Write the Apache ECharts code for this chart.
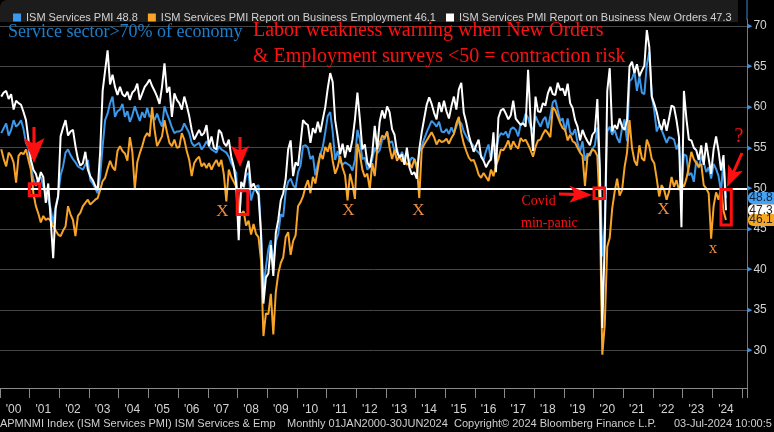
<!DOCTYPE html>
<html>
<head>
<meta charset="utf-8">
<script src="https://cdn.jsdelivr.net/npm/echarts@6.0.0/dist/echarts.min.js"></script>
<style>html,body{margin:0;padding:0;background:#000;}#c{width:774px;height:432px;}</style>
</head>
<body>
<div id="c"></div>
<script>
// ---- data (monthly, Jan 2000 - Jun 2024) ----
const servicesPMI = [
  56.8, 57.4, 58.0, 56.5, 57.2, 58.4, 57.6, 57.9, 58.4, 57.3, 55.6, 55.0,
  52.7, 51.1, 50.3, 51.2, 51.4, 50.2, 49.4, 48.6, 47.5, 45.6, 47.8, 49.1,
  51.6, 52.7, 54.4, 54.8, 54.1, 53.6, 53.2, 52.7, 52.5, 52.3, 52.9, 53.5,
  51.0, 50.6, 50.0, 49.4, 51.5, 55.2, 58.4, 59.2, 60.5, 61.3, 58.8, 59.5,
  59.7, 60.4, 58.8, 59.5, 58.2, 59.0, 60.1, 59.2, 58.3, 59.4, 58.7, 59.9,
  58.8, 59.0, 58.4, 59.2, 58.3, 57.6, 60.1, 59.2, 58.4, 57.5, 56.8, 57.0,
  57.0, 57.2, 58.0, 57.4, 56.8, 55.6, 55.2, 55.4, 55.6, 54.8, 55.2, 55.8,
  55.2, 54.8, 54.6, 54.4, 55.2, 54.8, 54.6, 54.4, 53.9, 53.1, 52.5, 51.9,
  45.5, 49.5, 49.8, 51.6, 51.9, 48.5, 49.6, 50.2, 50.4, 44.9, 37.5, 40.3,
  42.5, 43.6, 40.6, 43.4, 44.4, 46.8, 46.5, 49.6, 50.8, 51.2, 50.4, 50.0,
  52.0, 52.8, 55.2, 55.3, 55.0, 53.6, 54.0, 51.6, 53.0, 54.2, 55.1, 56.9,
  58.9, 59.4, 57.0, 53.5, 54.6, 53.3, 52.9, 53.2, 53.0, 52.8, 52.2, 53.5,
  57.2, 56.0, 53.6, 53.8, 52.3, 52.6, 53.6, 55.0, 54.3, 54.7, 56.0, 56.1,
  57.0, 55.6, 55.8, 54.6, 54.9, 53.6, 54.5, 53.7, 54.4, 53.2, 53.8, 53.6,
  52.4, 54.5, 55.2, 56.1, 56.9, 57.6, 58.3, 58.0, 57.6, 58.2, 57.0, 56.9,
  57.3, 56.7, 57.5, 56.8, 57.6, 58.3, 58.0, 57.0, 56.4, 55.9, 55.6, 55.2,
  54.7, 54.4, 54.0, 53.5, 54.6, 55.4, 53.4, 55.9, 54.6, 56.2, 56.8, 56.6,
  57.0, 56.2, 57.3, 57.5, 57.2, 56.4, 57.9, 58.1, 59.2, 58.7, 57.6, 57.2,
  58.9, 58.2, 57.6, 58.4, 58.8, 57.4, 58.9, 60.6, 60.9, 59.6, 58.3, 58.6,
  57.0, 58.6, 56.9, 56.6, 57.3, 55.6, 54.5, 55.8, 53.4, 54.3, 54.0, 54.9,
  55.3, 57.5, 52.2, 41.6, 45.6, 57.0, 57.6, 56.6, 57.2, 56.2, 55.6, 57.4,
  58.5, 55.8, 63.2, 63.5, 64.4, 62.0, 63.8, 61.8, 61.6, 65.2, 66.8, 61.4,
  59.6, 57.0, 57.8, 57.2, 56.4, 55.6, 56.3, 56.2, 56.0, 54.8, 55.6, 50.5,
  54.2, 54.0, 51.6, 51.9, 50.8, 53.4, 52.5, 53.9, 53.2, 52.0, 52.6, 51.2,
  53.0, 52.4, 51.5, 49.6, 53.5, 48.8
];
const employment = [
  54.8, 53.6, 52.7, 54.4, 54.0, 53.2, 50.7, 54.0, 54.4, 54.2, 54.8, 53.5,
  52.3, 49.4, 47.8, 46.9, 45.8, 46.6, 46.1, 46.3, 46.0, 45.3, 44.8, 44.3,
  44.1, 44.8, 45.3, 47.8, 46.8, 46.1, 44.1, 46.6, 47.0, 47.8, 48.2, 48.6,
  48.0, 48.3, 48.6, 48.8, 49.8, 50.9, 51.3, 52.4, 53.4, 52.6, 52.2, 54.6,
  55.2, 54.6, 54.3, 53.4, 56.3, 54.5, 49.9, 53.2, 54.3, 55.2, 56.3, 56.8,
  56.4, 60.0, 57.2, 55.2, 55.8, 56.4, 58.4, 56.9, 55.6, 55.2, 56.0, 55.0,
  55.1, 56.8, 56.0, 54.6, 53.5, 51.5, 53.1, 53.6, 53.9, 52.7, 53.1, 52.5,
  53.1, 52.3, 53.0, 53.5, 52.7, 53.5, 51.7, 48.4, 52.3, 51.4, 50.8, 50.2,
  47.5, 46.8, 47.2, 45.4, 46.0, 44.3, 45.6, 44.4, 44.0, 41.2, 31.8, 34.6,
  34.5, 37.0, 32.0, 37.2, 39.5, 40.8, 41.5, 44.0, 44.6, 41.8, 43.5, 44.2,
  47.8, 48.3, 49.0, 50.2, 51.0, 49.4, 51.4, 50.6, 52.4, 54.3, 53.6, 55.1,
  54.5, 55.6, 53.4, 51.8, 52.6, 54.0, 52.5, 51.6, 48.5, 51.8, 50.5, 48.7,
  55.5, 54.2, 52.3, 51.4, 51.8, 49.9, 53.1, 51.5, 54.8, 55.6, 56.5, 56.2,
  57.0, 55.0, 53.6, 54.7, 53.4, 54.0, 53.3, 53.6, 52.9, 53.2, 52.5, 53.6,
  52.8, 48.8, 54.8, 55.4, 55.9, 56.4, 56.9, 56.3, 55.4, 56.0, 55.7, 55.8,
  56.1, 55.5, 56.2, 56.7, 58.0, 58.8, 56.8, 55.5, 54.6, 53.8, 53.4, 53.5,
  52.7, 51.7, 51.3, 51.9, 51.4, 50.9, 52.3, 51.5, 52.8, 53.6, 54.8, 54.7,
  55.2, 55.9, 54.8, 55.8, 55.2, 54.9, 56.2, 55.8, 56.0, 55.4, 54.7, 53.9,
  55.1, 55.9, 56.0, 56.7, 57.2, 56.8, 56.3, 60.0, 59.6, 58.8, 58.0, 57.4,
  57.2, 55.9, 56.6, 55.8, 55.6, 55.0, 54.4, 54.0, 50.3, 53.9, 54.3, 54.8,
  54.6, 54.0, 47.2, 29.5, 33.2, 42.8, 43.9, 47.5, 49.6, 51.2, 49.1, 49.8,
  52.6, 54.4, 58.4, 55.0, 53.4, 52.8, 55.3, 53.7, 53.4, 56.0, 55.2, 53.6,
  53.1, 51.2, 49.0, 50.4, 49.8, 48.6, 49.6, 51.4, 50.2, 51.0, 49.8, 50.6,
  50.2, 51.2, 52.6, 54.5, 53.6, 53.1, 52.7, 53.0, 50.4, 50.0, 49.4, 43.8,
  47.8, 49.5, 48.6, 50.0, 47.2, 46.1
];
const newOrders = [
  61.3, 61.8, 62.0, 61.0, 61.6, 59.7, 60.8, 60.5, 60.3, 59.4, 58.4, 56.0,
  53.5, 52.3, 51.8, 50.7, 52.0, 51.4, 48.2, 50.6, 46.1, 41.4, 47.5, 49.0,
  56.4, 57.5, 58.4, 56.5, 57.0, 57.2, 55.2, 53.6, 52.8, 53.1, 54.5, 52.3,
  51.5, 51.0, 50.3, 49.8, 54.5, 62.0, 64.5, 67.0, 62.8, 64.0, 62.5, 61.5,
  62.5, 61.6, 61.3, 61.9, 60.9, 61.8, 62.1, 62.9, 60.9, 61.7, 62.5, 62.9,
  63.4, 62.6, 62.0, 61.3, 60.4, 62.5, 65.4, 61.8, 62.5, 58.8, 61.7, 60.9,
  60.5, 59.7, 61.3, 60.2, 58.9, 57.2, 56.0, 56.6, 57.2, 56.5, 56.8, 57.8,
  55.2, 56.4, 55.0, 54.8, 57.2, 56.8, 55.6, 55.2, 56.0, 53.9, 52.7, 50.5,
  43.6, 50.8, 50.2, 52.3, 53.4, 50.1, 50.6, 49.8, 49.2, 44.5, 35.8, 39.0,
  39.5, 43.0, 39.2, 44.5, 46.1, 48.5, 49.4, 51.2, 54.8, 55.9, 51.5, 53.2,
  52.8, 55.5, 58.4, 58.0, 57.8, 55.6, 57.4, 56.8, 58.2, 56.9, 58.5, 60.0,
  62.3, 64.2, 63.1, 58.4, 56.4, 54.2, 55.5, 53.8, 55.3, 54.5, 56.0, 58.5,
  61.8, 58.5, 54.8, 55.4, 53.2, 52.6, 54.3, 57.7, 54.8, 58.2, 59.6, 58.6,
  60.1, 59.4, 57.3, 56.6, 54.5, 53.8, 54.2, 52.9, 55.0, 52.6, 51.7, 52.0,
  51.2, 54.8, 56.9, 58.6, 60.3, 61.2, 60.4, 59.3, 58.5, 60.6, 59.4, 60.8,
  59.5, 58.6, 60.1, 61.3, 59.7, 62.2, 63.0, 59.3, 58.1, 56.6, 55.5, 54.5,
  55.3, 56.0, 53.9, 53.4, 52.6, 53.2, 53.6, 56.9, 52.0, 58.7, 59.6, 59.8,
  59.2, 58.5, 59.0, 60.8, 58.6, 58.2, 57.8, 58.0, 57.6, 64.6, 58.5, 54.6,
  61.3, 59.5, 59.4, 60.5, 60.2, 61.7, 62.5, 61.6, 61.5, 63.0, 62.1, 62.3,
  61.4, 62.9, 60.5, 59.9, 58.4, 57.6, 55.9, 57.2, 56.4, 55.8, 55.3, 56.6,
  57.0, 61.0, 52.4, 32.8, 43.5, 62.0, 64.8, 57.0, 57.8, 57.3, 58.6, 57.6,
  57.2, 58.4, 65.0, 65.6, 64.2, 65.3, 63.8, 64.5, 65.1, 69.5, 67.4, 61.3,
  60.4, 59.4, 58.0, 57.2, 58.5, 57.1, 58.6, 60.2, 60.0, 58.4, 56.3, 45.2,
  62.0, 58.6, 56.0, 55.9, 55.0, 54.7, 53.5, 55.3, 52.9, 55.6, 53.7, 51.8,
  54.8, 56.4, 54.6, 52.2, 54.1, 47.3
];
const seriesNames = [
  'ISM Services PMI 48.8',
  'ISM Services PMI Report on Business Employment 46.1',
  'ISM Services PMI Report on Business New Orders 47.3'
];
const lastValues = [48.8, 46.1, 47.3];
const yTickValues = [30, 35, 40, 45, 50, 55, 60, 65, 70];
const yRange = [25.4, 70.8];
const startYear = 2000;
const axisMonths = 302; // Jan 2000 .. Feb 2025 on the time axis

// month categories
const months = [];
for (let i = 0; i < axisMonths; i++) {
  const y = startYear + Math.floor(i / 12);
  const m = (i % 12) + 1;
  months.push(y + '-' + (m < 10 ? '0' + m : m));
}

const BLUE = '#3c98ea', ORANGE = '#f7a428', WHITE = '#ffffff';
const RED = '#ff1010', XORANGE = '#f08a3c';
const SERIF = '"Liberation Serif", "DejaVu Serif", serif';
const SANS = '"Liberation Sans", Arial, sans-serif';

function arrow(tail, tip, headLen, headHalf, stemHalf) {
  const dx = tip[0] - tail[0], dy = tip[1] - tail[1];
  const L = Math.hypot(dx, dy), ux = dx / L, uy = dy / L, px = -uy, py = ux;
  const bx = tip[0] - ux * headLen, by = tip[1] - uy * headLen;
  const nx = bx - ux * headLen * 0.25, ny = by - uy * headLen * 0.25;
  return [
    [tail[0] + px * stemHalf, tail[1] + py * stemHalf],
    [bx + px * stemHalf, by + py * stemHalf],
    [nx + px * headHalf, ny + py * headHalf],
    [tip[0], tip[1]],
    [nx - px * headHalf, ny - py * headHalf],
    [bx - px * stemHalf, by - py * stemHalf],
    [tail[0] - px * stemHalf, tail[1] - py * stemHalf]
  ];
}
function txt(id, s, x, y, size, color, align) {
  return { type: 'text', id: id, z: 100, silent: true,
    style: { text: s, x: x, y: y, fill: color, fontSize: size, fontFamily: SERIF,
      align: align || 'left', verticalAlign: 'middle' } };
}
function box(id, x, y, w, h) {
  return { type: 'rect', id: id, z: 100, silent: true, shape: { x: x, y: y, width: w, height: h },
    style: { fill: 'none', stroke: RED, lineWidth: 3 } };
}
function arr(id, pts) {
  return { type: 'polygon', id: id, z: 100, silent: true, shape: { points: pts }, style: { fill: RED } };
}
function foot(id, s, x) {
  return { type: 'text', id: id, z: 100, silent: true,
    style: { text: s, x: x, y: 424, fill: '#cfcfcf', fontSize: 11, fontFamily: SANS,
      align: 'left', verticalAlign: 'middle' } };
}

const chart = echarts.init(document.getElementById('c'));
const option = {
  backgroundColor: '#000',
  animation: false,
  textStyle: { fontFamily: SANS },
  legend: {
    left: 8, top: 7, itemWidth: 8, itemHeight: 8, itemGap: 10, icon: 'rect',
    selectedMode: false, z: 5,
    textStyle: { color: '#d2d2d2', fontSize: 11, fontFamily: SANS },
    data: seriesNames
  },
  grid: { left: -1.5, right: 27, top: 19.5, bottom: 44 },
  xAxis: {
    type: 'category', data: months, boundaryGap: true,
    axisLine: { show: true, lineStyle: { color: '#8a8a8a', width: 1 } },
    axisTick: { show: true, interval: function (i) { return i % 12 === 0; }, length: 10,
      lineStyle: { color: '#8a8a8a' } },
    axisLabel: { interval: function (i) { return i % 12 === 5; },
      formatter: function (v) { return "'" + v.slice(2, 4); },
      color: '#d2d2d2', fontSize: 12, margin: 16, fontFamily: SANS },
    splitLine: { show: false }
  },
  yAxis: {
    type: 'value', position: 'right', min: yRange[0], max: yRange[1],
    axisLine: { show: true, lineStyle: { color: '#3d86cf', width: 1 } },
    axisTick: { show: false, customValues: yTickValues },
    axisLabel: {
      customValues: yTickValues, margin: 0,
      formatter: function (v) { return '{t|\u25B6}{n|' + v + '}'; },
      rich: {
        t: { color: '#3d8fe0', fontSize: 7, fontFamily: 'DejaVu Sans', padding: [0, 1, 0, 0] },
        n: { color: '#d2d2d2', fontSize: 12, fontFamily: SANS }
      }
    },
    splitLine: { show: true, lineStyle: { color: '#454545', width: 1 } }
  },
  series: [
    { name: seriesNames[0], type: 'line', data: servicesPMI, symbol: 'none', z: 2,
      lineStyle: { color: BLUE, width: 2 }, itemStyle: { color: BLUE } },
    { name: seriesNames[1], type: 'line', data: employment, symbol: 'none', z: 3,
      lineStyle: { color: ORANGE, width: 2 }, itemStyle: { color: ORANGE } },
    { name: seriesNames[2], type: 'line', data: newOrders, symbol: 'none', z: 4,
      lineStyle: { color: WHITE, width: 2 }, itemStyle: { color: WHITE },
      markLine: { silent: true, symbol: ['none', 'none'], label: { show: false },
        lineStyle: { color: '#ffffff', width: 2, type: 'solid' }, data: [{ yAxis: 50 }] } }
  ]
};
chart.setOption(option);

// value tags on the right axis, positioned through the y scale
function tag(id, value, fill, textColor) {
  const y = chart.convertToPixel({ yAxisIndex: 0 }, value);
  return [
    { type: 'rect', id: id + 'R', z: 110, silent: true,
      shape: { x: 748, y: y - 6, width: 30, height: 12, r: 5 }, style: { fill: fill } },
    { type: 'text', id: id + 'T', z: 111, silent: true,
      style: { text: value.toFixed(1), x: 761, y: y, fill: textColor, fontSize: 12, fontFamily: SANS,
        align: 'center', verticalAlign: 'middle' } }
  ];
}

const graphics = [
  { type: 'rect', id: 'legendBar', z: 0, silent: true, shape: { x: 0, y: 0, width: 738, height: 22, r: [7, 0, 0, 0] },
    style: { fill: '#1c1c1c' } },
  { type: 'line', id: 'axisTop', z: 1, silent: true, shape: { x1: 747, y1: 0, x2: 747, y2: 20 },
    style: { stroke: '#3d86cf', lineWidth: 1 } },
  txt('t1', 'Service sector>70% of economy', 8, 32, 18, '#1b7fcc'),
  txt('t2', 'Labor weakness warning when New Orders', 253, 31, 20, RED),
  txt('t3', '& Employment surveys <50 = contraction risk', 253, 57, 20, RED),
  txt('qm', '?', 739, 137, 20, RED, 'center'),
  txt('x1', 'X', 222.5, 211.5, 17, XORANGE, 'center'),
  txt('x2', 'X', 348.5, 210.8, 17, XORANGE, 'center'),
  txt('x3', 'X', 418.5, 210.3, 17, XORANGE, 'center'),
  txt('x4', 'X', 663.5, 210, 17, XORANGE, 'center'),
  txt('x5', 'x', 713, 249, 17, XORANGE, 'center'),
  txt('cv1', 'Covid', 521.5, 201.5, 14, RED),
  txt('cv2', 'min-panic', 521, 223, 14, RED),
  box('b1', 29.3, 183.8, 10.4, 11.7),
  box('b2', 237.2, 190.8, 10.6, 23.7),
  box('b3', 594, 188, 10.5, 10.5),
  box('b4', 721, 189.5, 10.3, 35.5),
  arr('a1', arrow([34, 127], [34, 163], 20, 10.5, 1.6)),
  arr('a2', arrow([240, 137], [240, 167], 17, 9, 1.5)),
  arr('a3', arrow([559, 194], [592, 195], 18, 8.5, 1.6)),
  arr('a4', arrow([742, 153], [727, 187], 17, 8, 1.5)),
  foot('f1', 'NAPMNMI Index (ISM Services PMI) ISM Services & Emp', -8),
  foot('f2', 'Monthly 01JAN2000-30JUN2024', 287),
  foot('f3', 'Copyright\u00A9 2024 Bloomberg Finance L.P.', 454),
  foot('f4', '03-Jul-2024 10:00:5', 674)
].concat(
  tag('tagNO', lastValues[2], '#ffffff', '#222222'),
  tag('tagPMI', lastValues[0], '#45a2f2', '#0b2540'),
  tag('tagEMP', lastValues[1], '#f5a623', '#222222')
);

chart.setOption({ graphic: { elements: graphics } });
</script>
</body>
</html>
